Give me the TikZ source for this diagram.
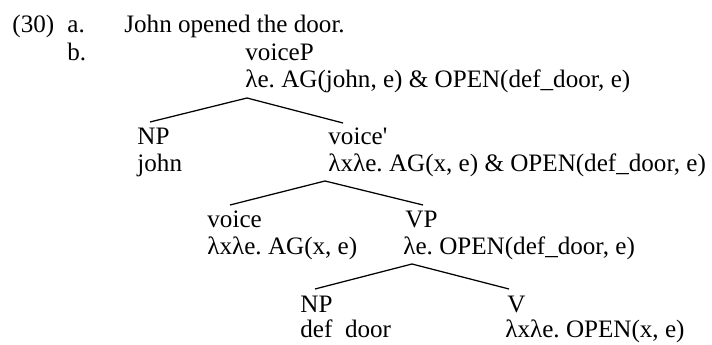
\documentclass[tikz,border=0pt]{standalone}
\usepackage{fontspec}
\setmainfont{Liberation Serif}
\usetikzlibrary{calc}

\tikzset{
  txt/.style={anchor=base west, inner sep=0pt, font=\fontsize{12}{13.8}\selectfont\frenchspacing},
  branch/.style={line width=0.6pt, black}
}

\begin{document}
\begin{tikzpicture}[x=0.478pt, y=-0.478pt]
  \useasboundingbox (0,0) rectangle (712,345);

  % example number and sub-items
  \node[txt] (num)  at (12,33)  {(30)};
  \node[txt] (itma) at (67,33)  {a.};
  \node[txt] (itmb) at (67,61)  {b.};
  \node[txt] (sent) at (124,33) {John opened the door.};

  % root
  \node[txt] (vP)    at (245,61)  {voiceP};
  \node[txt] (vPs)   at (245,88)  {λe. AG(john, e) \& OPEN(def\_door, e)};

  % subject and voice'
  \node[txt] (np1)   at (137,145) {NP};
  \node[txt] (np1s)  at (137,172) {john};
  \node[txt] (vbar)  at (328,145) {voice\textquotesingle};
  \node[txt] (vbars) at (328,172) {λxλe. AG(x, e) \& OPEN(def\_door, e)};

  % voice head and VP
  \node[txt] (vh)    at (207,228) {voice};
  \node[txt] (vhs)   at (207,255) {λxλe. AG(x, e)};
  \node[txt] (vp)    at (405,228) {VP};
  \node[txt] (vps)   at (403,255) {λe. OPEN(def\_door, e)};

  % object and verb
  \node[txt] (np2)   at (300,313) {NP};
  \node[txt] (np2s)  at (300,338) {def\phantom{\_}door};
  \node[txt] (vv)    at (507,313) {V};
  \node[txt] (vvs)   at (505,338) {λxλe. OPEN(x, e)};

  % branches
  \coordinate (a1) at ($(vPs.base west)+(2,10)$);
  \draw[branch] ($(np1.base west)+(13,-23)$) -- (a1) -- ($(vbar.base west)+(15,-22)$);

  \coordinate (a2) at ($(vbars.base west)+(-3,9)$);
  \draw[branch] ($(vh.base west)+(23,-23)$) -- (a2) -- ($(vp.base west)+(18,-23)$);

  \coordinate (a3) at ($(vps.base west)+(9,9)$);
  \draw[branch] ($(np2.base west)+(15,-24)$) -- (a3) -- ($(vv.base west)+(2,-24)$);
\end{tikzpicture}
\end{document}
